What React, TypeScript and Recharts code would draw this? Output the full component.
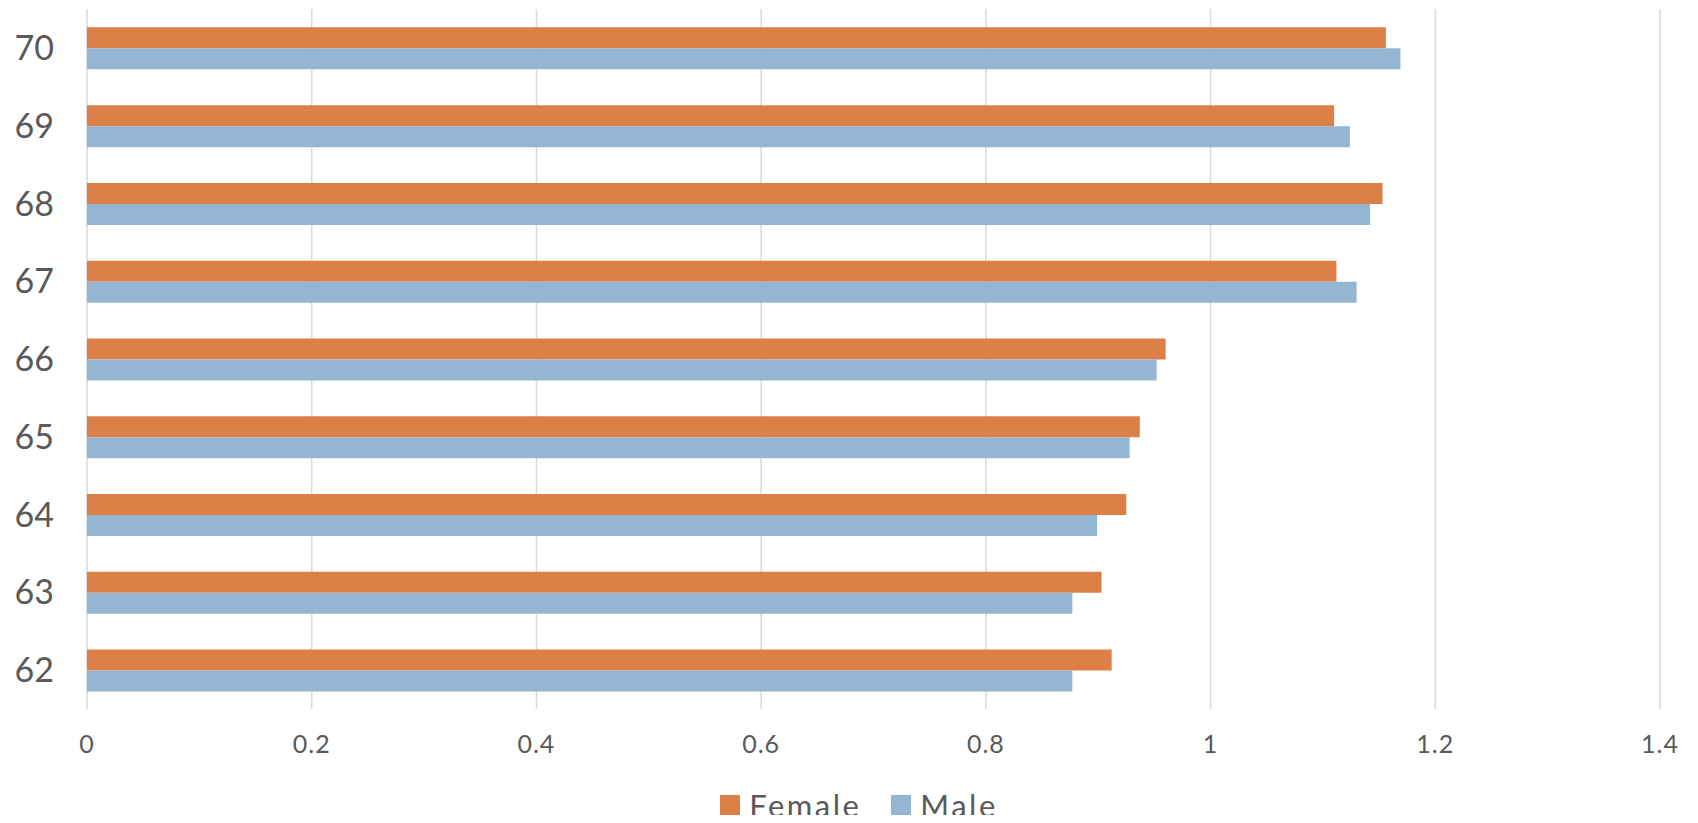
import { BarChart, Bar, XAxis, YAxis, CartesianGrid, Legend } from 'recharts'

const ages = ['70', '69', '68', '67', '66', '65', '64', '63', '62']
const female = [1.156, 1.11, 1.153, 1.112, 0.96, 0.937, 0.925, 0.903, 0.912]
const male = [1.169, 1.124, 1.142, 1.13, 0.952, 0.928, 0.899, 0.877, 0.877]
const xTicks = [0, 0.2, 0.4, 0.6, 0.8, 1, 1.2, 1.4]

const FEMALE_COLOR = '#dd8047'
const MALE_COLOR = '#94b6d2'
const TEXT_COLOR = '#595959'
const FONT = 'Lato, "Open Sans", sans-serif'

const data = ages.map((age, i) => ({ age, female: female[i], male: male[i] }))

const LegendContent = ({ payload }: any) => (
  <div
    style={{
      display: 'flex',
      justifyContent: 'center',
      alignItems: 'center',
      paddingLeft: 20,
      height: 44,
      lineHeight: '44px',
      fontFamily: FONT,
      fontSize: 31,
      letterSpacing: 2.5,
      color: TEXT_COLOR,
    }}
  >
    {(payload || []).map((item: any, i: number) => (
      <div key={item.value} style={{ display: 'flex', alignItems: 'center', marginLeft: i ? 30 : 0 }}>
        <span style={{ width: 20, height: 20, background: item.color, marginRight: 9, display: 'inline-block' }} />
        <span>{item.value}</span>
      </div>
    ))}
  </div>
)

const App = () => {
  return (
    <div style={{ margin: -8, width: 1698, height: 823, background: '#fff', overflow: 'hidden' }}>
      <BarChart
        width={1698}
        height={823}
        data={data}
        layout="vertical"
        margin={{ top: 9, right: 38, left: 0, bottom: 0 }}
        barCategoryGap="23.6%"
        barGap={0}
      >
        <CartesianGrid horizontal={false} stroke="#d9d9d9" strokeWidth={1.5} />
        <XAxis
          type="number"
          domain={[0, 1.4]}
          ticks={xTicks}
          axisLine={false}
          tickLine={false}
          tickSize={0}
          tickMargin={26}
          height={70}
          tick={{ fill: TEXT_COLOR, fontSize: 25, fontFamily: FONT, letterSpacing: 1 }}
        />
        <YAxis
          type="category"
          dataKey="age"
          width={87}
          axisLine={false}
          tickLine={false}
          tickSize={0}
          tickMargin={33}
          tick={{ fill: TEXT_COLOR, fontSize: 34, fontFamily: FONT }}
        />
        <Legend
          verticalAlign="bottom"
          content={<LegendContent />}
          wrapperStyle={{ top: 783, left: 0, width: 1698, height: 44 }}
        />
        <Bar dataKey="female" name="Female" fill={FEMALE_COLOR} isAnimationActive={false} />
        <Bar dataKey="male" name="Male" fill={MALE_COLOR} isAnimationActive={false} />
      </BarChart>
    </div>
  )
}

export default App
